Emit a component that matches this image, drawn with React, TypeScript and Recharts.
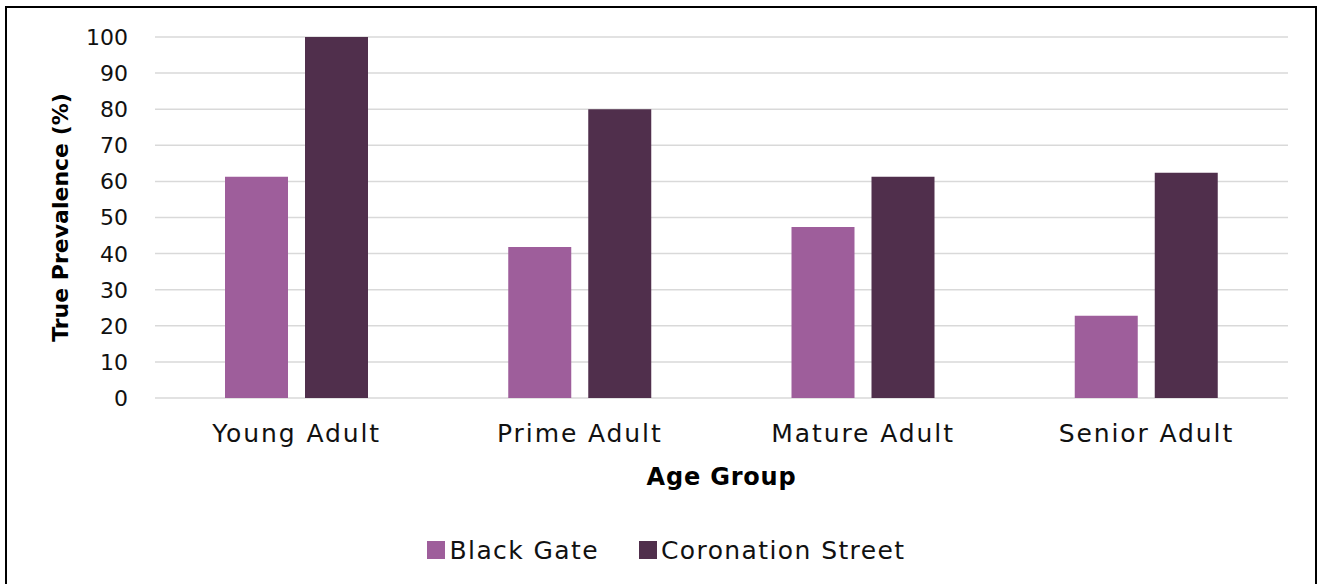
import { BarChart, Bar, XAxis, YAxis, CartesianGrid, Legend } from 'recharts'

const ageGroups = ['Young Adult', 'Prime Adult', 'Mature Adult', 'Senior Adult']
const blackGate = [61.3, 41.8, 47.4, 22.8]
const coronationStreet = [100, 80, 61.3, 62.4]
const yTicks = [0, 10, 20, 30, 40, 50, 60, 70, 80, 90, 100]

const SERIES = [
  { key: 'blackGate', name: 'Black Gate', color: '#9e5e9b' },
  { key: 'coronationStreet', name: 'Coronation Street', color: '#502f4c' },
]

const data = ageGroups.map((group, i) => ({
  group,
  blackGate: blackGate[i],
  coronationStreet: coronationStreet[i],
}))

const FONT = '"DejaVu Sans", sans-serif'

function XTick({ x, y, payload }: { x?: number; y?: number; payload?: { value: string } }) {
  return (
    <text x={x} y={(y ?? 0) + 44} textAnchor="middle" fontFamily={FONT} fontSize={25} letterSpacing={1.9} fill="#111">
      {payload?.value}
    </text>
  )
}

function YTick({ x, y, payload }: { x?: number; y?: number; payload?: { value: number } }) {
  return (
    <text x={(x ?? 0) - 27} y={y} dy="0.36em" textAnchor="end" fontFamily={FONT} fontSize={22} fill="#111">
      {payload?.value}
    </text>
  )
}

function YTitle({ viewBox }: { viewBox?: { x: number; y: number; width: number; height: number } }) {
  if (!viewBox) return null
  const cx = viewBox.x + 60
  const cy = viewBox.y + viewBox.height / 2
  return (
    <text x={cx} y={cy} dy="0.36em" transform={`rotate(-90 ${cx} ${cy})`} textAnchor="middle" fontFamily={FONT} fontWeight="bold" fontSize={22} fill="#000">
      True Prevalence (%)
    </text>
  )
}

function XTitle({ viewBox }: { viewBox?: { x: number; y: number; width: number; height: number } }) {
  if (!viewBox) return null
  return (
    <text x={viewBox.x + viewBox.width / 2} y={viewBox.y + 87} textAnchor="middle" fontFamily={FONT} fontWeight="bold" fontSize={24} letterSpacing={0.8} fill="#000">
      Age Group
    </text>
  )
}

function LegendBox() {
  return (
    <div style={{ height: 30, display: 'flex', justifyContent: 'center', alignItems: 'center', paddingLeft: 16, gap: 40, fontFamily: FONT, fontSize: 25, letterSpacing: 1.4, color: '#111' }}>
      {SERIES.map((s) => (
        <span key={s.key} style={{ display: 'flex', alignItems: 'center', gap: 4 }}>
          <span style={{ width: 18, height: 18, background: s.color, display: 'inline-block' }} />
          {s.name}
        </span>
      ))}
    </div>
  )
}

export default function App() {
  return (
    <div style={{ position: 'absolute', left: 0, top: 0, width: 1317, height: 584, overflow: 'hidden', background: '#fff' }}>
      <div style={{ position: 'absolute', left: 5, top: 6, width: 1308, height: 620, border: '2px solid #000' }} />
      <BarChart width={1317} height={584} data={data} margin={{ top: 37, right: 29, left: 0, bottom: 19 }} barSize={63} barGap={17}>
        <CartesianGrid vertical={false} stroke="#d9d9d9" strokeWidth={1.5} />
        <XAxis dataKey="group" height={137} axisLine={false} tickLine={false} tickSize={0} tickMargin={0} tick={<XTick />} label={<XTitle />} />
        <YAxis width={155} domain={[0, 100]} ticks={yTicks} axisLine={false} tickLine={false} tickSize={0} tickMargin={0} tick={<YTick />} label={<YTitle />} />
        <Legend verticalAlign="bottom" wrapperStyle={{ left: 0, width: 1317 }} content={<LegendBox />} />
        {SERIES.map((s) => (
          <Bar key={s.key} dataKey={s.key} name={s.name} fill={s.color} isAnimationActive={false} />
        ))}
      </BarChart>
    </div>
  )
}
